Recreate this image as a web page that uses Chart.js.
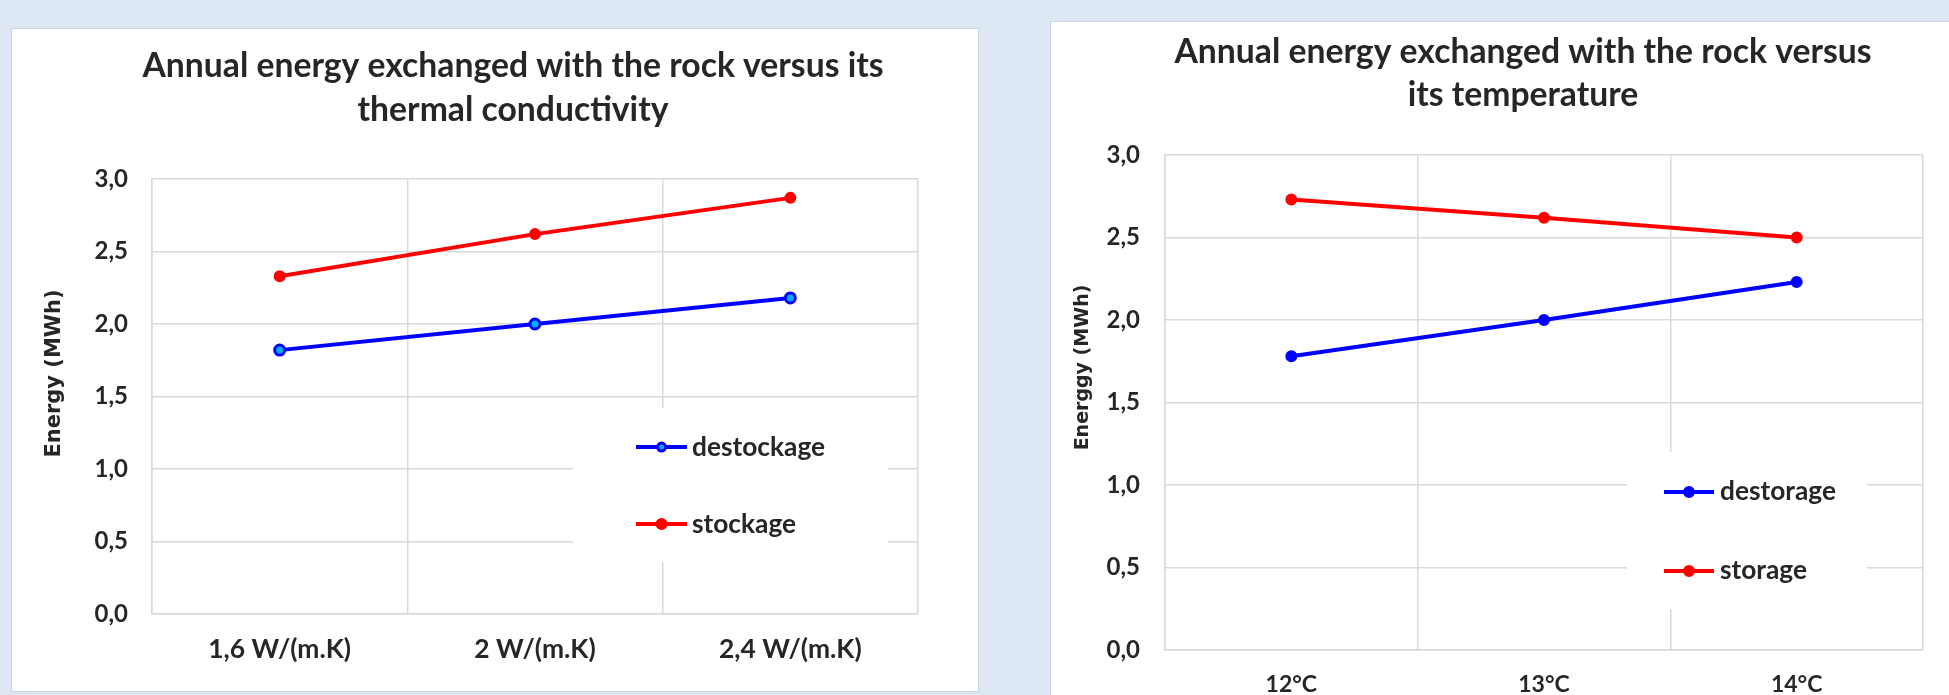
<!DOCTYPE html>
<html>
<head>
<meta charset="utf-8">
<title>Annual energy exchanged with the rock</title>
<script src="https://cdn.jsdelivr.net/npm/chart.js@4.4.0/dist/chart.umd.min.js"></script>
<style>
  html, body { margin: 0; padding: 0; }
  body { width: 1949px; height: 695px; overflow: hidden; background: #dde8f4; position: relative; }
  .card { position: absolute; background: #fff; border: 1px solid #cbd5e1; box-sizing: border-box; }
  .holder { position: absolute; }
</style>
</head>
<body>
<div class="card" style="left:11px;top:28px;width:968px;height:664px"></div>
<div class="card" style="left:1050px;top:21px;width:960px;height:720px"></div>
<div class="holder" style="left:12px;top:29px;width:1002px;height:662px"><canvas id="chartConductivity"></canvas></div>
<div class="holder" style="left:1051px;top:22px;width:944px;height:700px"><canvas id="chartTemperature"></canvas></div>

<script>
// ====== DATA ======
const conductivityLabels = ["1,6 W/(m.K)", "2 W/(m.K)", "2,4 W/(m.K)"];
const destockage = [1.82, 2.0, 2.18];
const stockage = [2.33, 2.62, 2.87];

const temperatureLabels = ["12°C", "13°C", "14°C"];
const destorage = [1.78, 2.0, 2.23];
const storage = [2.73, 2.62, 2.5];

const yMin = 0;
const yMax = 3;
const yStep = 0.5;

// ====== STYLE ======
const textColor = "#262626";
const gridColor = "#d9d9d9";
const blue = "#0000ff";
const red = "#ff0000";

// legend drawn inside the plot, on a white box that hides the grid
const boxLegend = {
  id: "boxLegend",
  beforeDatasetsDraw(chart, args, opts) {
    const { ctx, chartArea } = chart;
    const x0 = chartArea.right - opts.fromRight;
    const y0 = chartArea.top + opts.fromTop;
    ctx.save();
    ctx.fillStyle = "#fff";
    ctx.fillRect(x0, y0, opts.width, opts.height);
    ctx.font = "bold 26.3px Lato";
    ctx.textBaseline = "middle";
    chart.data.datasets.forEach((ds, i) => {
      const y = y0 + opts.firstRow + i * opts.rowGap;
      const lx = x0 + opts.lineStart;
      ctx.strokeStyle = ds.borderColor;
      ctx.lineWidth = ds.borderWidth;
      ctx.beginPath();
      ctx.moveTo(lx, y);
      ctx.lineTo(lx + opts.lineLength, y);
      ctx.stroke();
      ctx.beginPath();
      ctx.arc(lx + opts.lineLength / 2, y, opts.markerRadius[i], 0, Math.PI * 2);
      ctx.fillStyle = ds.pointBackgroundColor;
      ctx.fill();
      ctx.lineWidth = ds.pointBorderWidth;
      ctx.strokeStyle = ds.pointBorderColor;
      ctx.stroke();
      ctx.fillStyle = textColor;
      ctx.fillText(ds.label, x0 + opts.textStart, y);
    });
    ctx.restore();
  },
};

// y axis title: sits a bit above the middle of the plot, like the original
const judulSumbuY = {
  id: "judulSumbuY",
  afterDraw(chart, args, opts) {
    const { ctx, chartArea } = chart;
    ctx.save();
    ctx.translate(opts.x, (chartArea.top + chartArea.bottom) / 2 + opts.shift);
    ctx.rotate(-Math.PI / 2);
    ctx.font = `bold ${opts.size}px "DejaVu Sans"`;
    ctx.fillStyle = textColor;
    ctx.textAlign = "center";
    ctx.textBaseline = "middle";
    ctx.fillText(opts.text, 0, 0);
    ctx.restore();
  },
};

function serie(label, values, color, centre) {
  return {
    label,
    data: values,
    yAxisID: "y",
    borderColor: color,
    borderWidth: 4,
    pointRadius: 5,
    pointHoverRadius: 5,
    pointBackgroundColor: centre || color,
    pointBorderColor: color,
    pointBorderWidth: centre ? 3 : 2,
    tension: 0,
  };
}

function buatGrafik(canvasId, cfg) {
  const ctx = document.getElementById(canvasId).getContext("2d");
  return new Chart(ctx, {
    type: "line",
    data: { labels: cfg.labels, datasets: cfg.datasets },
    options: {
      responsive: true,
      maintainAspectRatio: false,
      animation: false,
      layout: { padding: 0 },
      plugins: {
        legend: { display: false },
        tooltip: { enabled: false },
        title: {
          display: true,
          text: cfg.title,
          color: textColor,
          font: { family: "Lato", size: 33.7, weight: "bold", lineHeight: cfg.titleLine },
          padding: { top: cfg.titleTop, bottom: cfg.titleBottom },
        },
        boxLegend: cfg.legend,
        judulSumbuY: cfg.yTitle,
      },
      scales: {
        x: {
          offset: true,
          grid: { offset: true, color: gridColor, lineWidth: 1.5, drawTicks: false },
          border: { display: true, color: gridColor, width: 1.5 },
          ticks: {
            color: textColor,
            font: { family: "Lato", size: cfg.xSize, weight: "bold" },
            padding: cfg.xPad,
          },
          afterFit: (s) => { s.height = cfg.xHeight; },
        },
        y: {
          min: yMin,
          max: yMax,
          grid: { color: gridColor, lineWidth: 1.5, drawTicks: false },
          border: { display: true, color: gridColor, width: 1.5 },
          ticks: {
            stepSize: yStep,
            color: textColor,
            font: { family: "Lato", size: 24, weight: "bold" },
            padding: cfg.yPad,
            callback: (v) => v.toFixed(1).replace(".", ","),
          },
          afterFit: (s) => { s.width = cfg.yWidth; },
        },
        // empty strip on the right so the title sits where it does in the original
        kanan: {
          type: "linear",
          position: "right",
          display: true,
          grid: { display: false, drawTicks: false },
          border: { display: false },
          ticks: { display: false },
          afterFit: (s) => { s.width = cfg.rightSpace; },
        },
      },
    },
    plugins: [boxLegend, judulSumbuY],
  });
}

// ====== GRAFIK KIRI: konduktivitas ======
buatGrafik("chartConductivity", {
  labels: conductivityLabels,
  datasets: [
    serie("destockage", destockage, blue, "#00b0f0"),
    serie("stockage", stockage, red),
  ],
  title: ["Annual energy exchanged with the rock versus its", "thermal conductivity"],
  titleLine: 1.306,
  titleTop: 15,
  titleBottom: 47,
  rightSpace: 96,
  yWidth: 140,
  yPad: 24,
  yTitle: { text: "Energy (MWh)", size: 21, x: 43, shift: -23 },
  xSize: 26.4,
  xPad: 20,
  xHeight: 77,
  legend: {
    fromRight: 345, fromTop: 229, width: 315, height: 154,
    lineStart: 63, lineLength: 51, textStart: 119,
    firstRow: 39, rowGap: 77, markerRadius: [4, 5],
  },
});

// ====== GRAFIK KANAN: temperatur ======
buatGrafik("chartTemperature", {
  labels: temperatureLabels,
  datasets: [
    serie("destorage", destorage, blue),
    serie("storage", storage, red),
  ],
  title: ["Annual energy exchanged with the rock versus", "its temperature"],
  titleLine: 1.276,
  titleTop: 9,
  titleBottom: 38,
  rightSpace: 72,
  yWidth: 114,
  yPad: 25,
  yTitle: { text: "Energgy (MWh)", size: 19, x: 32, shift: -35 },
  xSize: 23,
  xPad: 21,
  xHeight: 72,
  legend: {
    fromRight: 296, fromTop: 297, width: 240, height: 157,
    lineStart: 37, lineLength: 50, textStart: 93,
    firstRow: 40, rowGap: 79, markerRadius: [5, 5],
  },
});
</script>
</body>
</html>
